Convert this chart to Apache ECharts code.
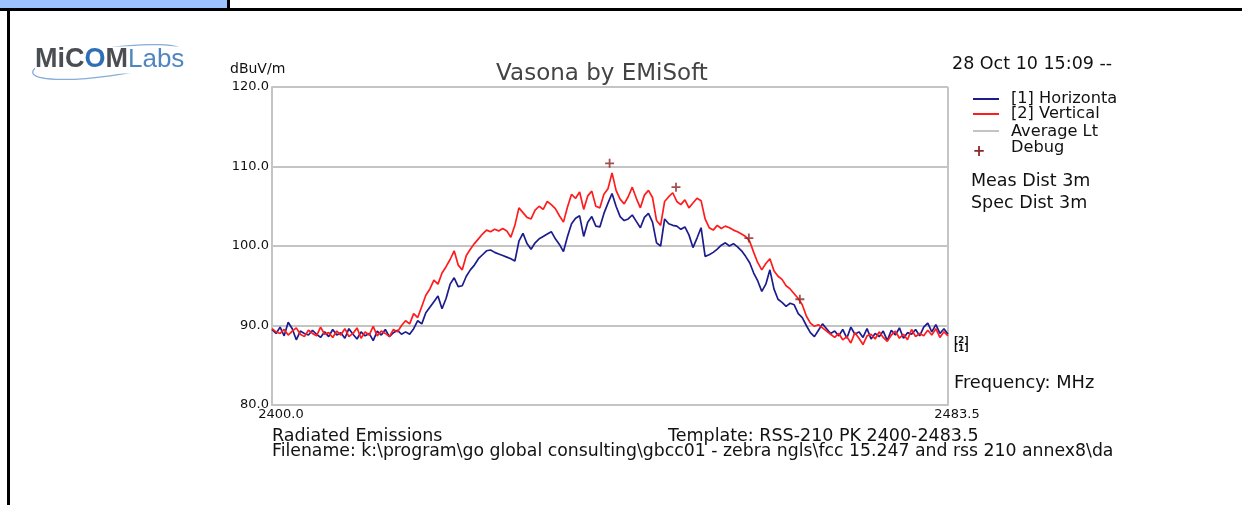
<!DOCTYPE html>
<html>
<head>
<meta charset="utf-8">
<script src="https://cdn.jsdelivr.net/npm/echarts@6/dist/echarts.min.js"></script>
<style>
  html, body { margin: 0; padding: 0; background: #fff; }
  #chart { width: 1242px; height: 505px; }
</style>
</head>
<body>
<div id="chart"></div>
<script>
// sweep definition (MHz)
const FREQ_START = 2400.0;
const FREQ_STOP = 2483.5;
const FREQ_STEP = 0.5;

// [1] Horizontal, dBuV/m, one value per sweep step
const horizontal = [
  89.5, 89.0, 89.8, 88.7, 90.4, 89.6, 88.2, 89.3, 89.0, 88.8,
  89.4, 88.9, 88.5, 89.2, 88.6, 89.5, 88.8, 89.1, 88.4, 89.6,
  88.9, 88.3, 89.2, 88.7, 89.0, 88.1, 89.3, 88.8, 89.5, 88.6,
  89.1, 89.4, 88.9, 89.2, 88.9, 89.6, 90.6, 90.2, 91.6, 92.3,
  93.0, 93.7, 92.1, 93.4, 95.2, 96.0, 94.9, 95.0, 96.2, 97.0,
  97.6, 98.4, 98.9, 99.4, 99.5, 99.2, 99.0, 98.8, 98.6, 98.4,
  98.1, 100.6, 101.6, 100.3, 99.6, 100.4, 100.9, 101.2, 101.5, 101.8,
  100.9, 100.2, 99.3, 101.2, 102.8, 103.5, 103.8, 101.2, 103.0, 103.7,
  102.5, 102.4, 104.1, 105.4, 106.6, 105.0, 103.7, 103.2, 103.4, 103.9,
  103.1, 102.3, 103.6, 104.1, 103.0, 100.4, 100.0, 103.4, 102.8, 102.6,
  102.5, 102.1, 102.4, 101.4, 99.8, 101.0, 102.3, 98.7, 98.9, 99.2,
  99.6, 100.1, 100.4, 100.0, 100.3, 99.9, 99.4, 98.7, 97.9, 96.6,
  95.6, 94.3, 95.2, 97.0, 94.6, 93.3, 92.9, 92.4, 92.8, 92.6,
  91.5, 91.0, 90.0, 89.1, 88.6, 89.4, 90.2, 89.6, 89.0, 89.3,
  88.7, 89.5, 88.4, 89.8, 88.9, 89.2, 88.5, 89.6, 88.3, 89.0,
  88.6, 89.3, 88.1, 89.4, 88.8, 89.7, 88.4, 89.1, 88.9, 89.5,
  88.7, 89.8, 90.3, 89.2, 90.1, 89.0, 89.6, 88.9
];

// [2] Vertical, dBuV/m
const vertical = [
  89.6, 89.2, 89.0, 89.5, 88.8, 89.3, 89.7, 88.9, 88.6, 89.4,
  89.0, 88.7, 89.8, 88.9, 89.1, 88.5, 89.3, 88.8, 89.6, 88.6,
  89.0, 89.7, 88.4, 89.2, 88.8, 89.9, 88.7, 89.3, 89.0, 88.6,
  89.5, 89.2, 90.0, 90.6, 90.2, 91.5, 91.0, 92.4, 93.8, 94.6,
  95.7, 95.2, 96.6, 97.4, 98.3, 99.4, 97.6, 97.0, 98.8, 99.6,
  100.3, 100.9, 101.5, 102.0, 101.8, 102.1, 101.9, 102.2, 101.9, 101.1,
  102.6, 104.8, 104.2, 103.6, 103.4, 104.5, 105.0, 104.6, 105.6, 105.2,
  104.7, 103.8, 103.0, 104.9, 106.5, 106.0, 106.8, 104.6, 106.3, 106.9,
  105.0, 104.8, 106.5, 107.2, 109.2, 107.0, 105.9, 105.3, 106.2, 107.4,
  106.0, 104.8, 106.4, 107.0, 106.1, 103.2, 102.6, 105.6, 106.2, 106.7,
  105.6, 105.2, 105.8, 104.8, 105.4, 106.0, 105.7, 103.4, 102.3, 102.0,
  102.6, 102.2, 102.5, 102.3, 102.0, 101.8, 101.5, 101.2, 100.6, 99.2,
  97.9, 97.0, 97.8, 98.4, 96.9, 96.2, 95.8, 95.0, 94.6, 94.0,
  93.4, 92.6, 91.2, 90.3, 89.9, 90.1, 89.7, 89.3, 88.9, 88.5,
  89.0, 88.2, 88.6, 87.8, 89.1, 88.4, 87.6, 88.7, 88.9, 88.3,
  89.2, 88.5, 88.0, 88.8, 89.3, 88.4, 88.9, 88.2, 89.5, 88.6,
  89.0, 88.7, 89.4, 88.8, 89.6, 88.5, 89.2, 88.7
];

// Debug markers
const debugFreq = [2441.7, 2449.9, 2458.9, 2465.2];
const debugLevel = [110.4, 107.4, 101.0, 93.3];

// average limit line: not shown inside the 80-120 window
const averageLt = [];

const yMin = 80, yMax = 120, yStep = 10;

function toPairs(values) {
  return values.map((v, i) => [FREQ_START + i * FREQ_STEP, v]);
}

const FONT = '"DejaVu Sans", Verdana, sans-serif';
const PLUS = 'path://M4,0H6V4H10V6H6V10H4V6H0V4H4Z';
const GRID = '#c4c4c4';

const chart = echarts.init(document.getElementById('chart'), null, { renderer: 'canvas' });

const option = {
  backgroundColor: '#fff',
  animation: false,
  grid: { left: 272, right: 294, top: 87, bottom: 100 },
  xAxis: {
    type: 'value',
    min: FREQ_START,
    max: FREQ_STOP,
    interval: 100,
    axisLine: { show: true, lineStyle: { color: GRID, width: 2 } },
    axisTick: { show: false },
    splitLine: { show: true, lineStyle: { color: GRID, width: 2 } },
    axisLabel: {
      show: true,
      showMinLabel: true,
      showMaxLabel: true,
      margin: 3,
      padding: [0, 0, 0, 18],
      color: '#111',
      fontFamily: FONT,
      fontSize: 13,
      formatter: v => (v === FREQ_START || v === FREQ_STOP) ? v.toFixed(1) : ''
    }
  },
  yAxis: {
    type: 'value',
    min: yMin,
    max: yMax,
    interval: yStep,
    axisLine: { show: true, lineStyle: { color: GRID, width: 2 } },
    axisTick: { show: false },
    splitLine: { show: true, lineStyle: { color: GRID, width: 2 } },
    axisLabel: {
      margin: 3,
      color: '#111',
      fontFamily: FONT,
      fontSize: 13,
      formatter: v => v.toFixed(1)
    }
  },
  series: [
    {
      name: 'Average Lt',
      type: 'line',
      data: averageLt,
      symbol: 'none',
      lineStyle: { color: '#888', width: 1 }
    },
    {
      name: '[1] Horizontal',
      type: 'line',
      data: toPairs(horizontal),
      symbol: 'none',
      lineStyle: { color: '#1c1c8e', width: 1.7 },
      z: 3
    },
    {
      name: '[2] Vertical',
      type: 'line',
      data: toPairs(vertical),
      symbol: 'none',
      lineStyle: { color: '#ff1c1c', width: 1.7 },
      z: 4
    },
    {
      name: 'Debug',
      type: 'scatter',
      data: debugFreq.map((f, i) => [f, debugLevel[i]]),
      symbol: PLUS,
      symbolSize: 9,
      itemStyle: { color: '#8e2424' },
      z: 5
    }
  ],
  graphic: [
    // page frame
    { type: 'rect', shape: { x: 0, y: 0, width: 228, height: 9 }, style: { fill: '#9cc3ff' } },
    { type: 'rect', shape: { x: 227, y: 0, width: 3, height: 10 }, style: { fill: '#000' } },
    { type: 'rect', shape: { x: 0, y: 8, width: 1242, height: 3 }, style: { fill: '#000' } },
    { type: 'rect', shape: { x: 7, y: 8, width: 3, height: 497 }, style: { fill: '#000' } },

    // logo
    {
      type: 'ellipse',
      shape: { cx: 108, cy: 62, rx: 76, ry: 14 },
      rotation: 0.14,
      originX: 108, originY: 62,
      style: { fill: 'none', stroke: '#86acd8', lineWidth: 1.3 }
    },
    {
      type: 'text', x: 35, y: 60,
      style: {
        text: '{a|MiC}{o|O}{a|M}{b|Labs}',
        verticalAlign: 'middle',
        rich: {
          a: { fontFamily: '"Liberation Sans", Arial', fontWeight: 'bold', fontSize: 27, fill: '#4a4d52' },
          o: { fontFamily: '"Liberation Sans", Arial', fontWeight: 'bold', fontSize: 27, fill: '#2f6fb4' },
          b: { fontFamily: '"Liberation Sans", Arial', fontSize: 26, fill: '#4f86c0' }
        },
        backgroundColor: '#fff'
      }
    },

    // headings
    { type: 'text', x: 230, y: 69, style: { text: 'dBuV/m', fontFamily: FONT, fontSize: 14, fill: '#111', verticalAlign: 'middle' } },
    { type: 'text', x: 602, y: 74, style: { text: 'Vasona by EMiSoft', fontFamily: FONT, fontSize: 23, fill: '#444', align: 'center', verticalAlign: 'middle' } },
    { type: 'text', x: 952, y: 64, style: { text: '28 Oct 10 15:09 --', fontFamily: FONT, fontSize: 17.5, fill: '#111', verticalAlign: 'middle' } },

    // legend
    { type: 'line', shape: { x1: 973, y1: 99, x2: 999, y2: 99 }, style: { stroke: '#1c1c8e', lineWidth: 2 } },
    { type: 'line', shape: { x1: 973, y1: 114, x2: 999, y2: 114 }, style: { stroke: '#ff1c1c', lineWidth: 2 } },
    { type: 'line', shape: { x1: 973, y1: 131, x2: 999, y2: 131 }, style: { stroke: '#888', lineWidth: 1 } },
    { type: 'text', x: 1011, y: 99, style: { text: '[1] Horizonta', fontFamily: FONT, fontSize: 16.2, fill: '#111', verticalAlign: 'middle' } },
    { type: 'text', x: 1011, y: 114, style: { text: '[2] Vertical', fontFamily: FONT, fontSize: 16.2, fill: '#111', verticalAlign: 'middle' } },
    { type: 'text', x: 1011, y: 132, style: { text: 'Average Lt', fontFamily: FONT, fontSize: 16.2, fill: '#111', verticalAlign: 'middle' } },
    { type: 'text', x: 1011, y: 148, style: { text: 'Debug', fontFamily: FONT, fontSize: 16.2, fill: '#111', verticalAlign: 'middle' } },
    { type: 'text', x: 979, y: 152, style: { text: '+', fontFamily: FONT, fontSize: 15, fontWeight: 'bold', fill: '#8e2424', align: 'center', verticalAlign: 'middle' } },
    { type: 'text', x: 971, y: 181, style: { text: 'Meas Dist 3m', fontFamily: FONT, fontSize: 17.5, fill: '#111', verticalAlign: 'middle' } },
    { type: 'text', x: 971, y: 203, style: { text: 'Spec Dist 3m', fontFamily: FONT, fontSize: 17.5, fill: '#111', verticalAlign: 'middle' } },

    // trace end tags
    { type: 'text', x: 954, y: 341, style: { text: '[2]', fontFamily: FONT, fontSize: 9, fontWeight: 'bold', fill: '#111', verticalAlign: 'middle' } },
    { type: 'text', x: 954, y: 349, style: { text: '[1]', fontFamily: FONT, fontSize: 9, fontWeight: 'bold', fill: '#111', verticalAlign: 'middle' } },

    { type: 'text', x: 954, y: 383, style: { text: 'Frequency: MHz', fontFamily: FONT, fontSize: 17.8, fill: '#111', verticalAlign: 'middle' } },

    // footer
    { type: 'text', x: 272, y: 436, style: { text: 'Radiated Emissions', fontFamily: FONT, fontSize: 17.5, fill: '#111', verticalAlign: 'middle' } },
    { type: 'text', x: 668, y: 436, style: { text: 'Template: RSS-210 PK 2400-2483.5', fontFamily: FONT, fontSize: 17.5, fill: '#111', verticalAlign: 'middle' } },
    { type: 'text', x: 272, y: 452, style: { text: 'Filename: k:\\program\\go global consulting\\gbcc01 - zebra ngls\\fcc 15.247 and rss 210 annex8\\da', fontFamily: FONT, fontSize: 17.3, fill: '#111', verticalAlign: 'middle' } }
  ]
};

chart.setOption(option);
</script>
</body>
</html>
